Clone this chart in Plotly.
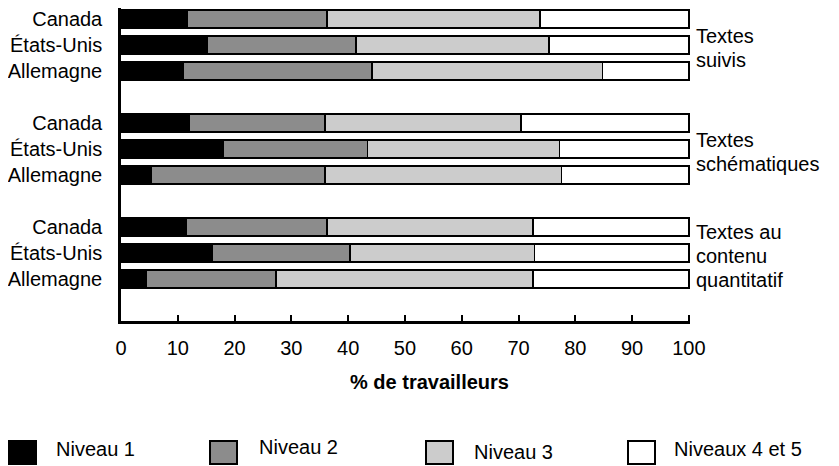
import plotly.graph_objects as go

countries = ["Canada", "États-Unis", "Allemagne"]
groups = [["Textes", "suivis"], ["Textes", "schématiques"], ["Textes au", "contenu", "quantitatif"]]
levels = ["Niveau 1", "Niveau 2", "Niveau 3", "Niveaux 4 et 5"]
x_title = "% de travailleurs"

# per group: Canada, États-Unis, Allemagne (percent of workers)
niveau1 = [11.7, 15.2, 10.9, 12.0, 18.0, 5.4, 11.5, 16.0, 4.4]
niveau2 = [24.6, 26.2, 33.3, 23.9, 25.4, 30.5, 24.8, 24.3, 22.9]
niveau3 = [37.5, 34.0, 40.6, 34.5, 33.8, 41.7, 36.2, 32.5, 45.2]
niveau45 = [26.2, 24.6, 15.2, 29.6, 22.8, 22.4, 27.5, 27.2, 27.5]

colors = ["#000000", "#8c8c8c", "#cccccc", "#ffffff"]
xticks = [0, 10, 20, 30, 40, 50, 60, 70, 80, 90, 100]

ypos = [g * 4 + c for g in range(3) for c in range(3)]
ylabels = countries * 3

fig = go.Figure()
for name, vals, col in zip(levels, [niveau1, niveau2, niveau3, niveau45], colors):
    fig.add_trace(go.Bar(
        y=ypos, x=vals, name=name, orientation="h", width=0.68,
        marker=dict(color=col, line=dict(color="#000000", width=1.6)),
        showlegend=False,
    ))

FS = 20
font = dict(family="Liberation Sans, Arial, sans-serif", size=FS, color="#000000")

# page is offset by the 8px body margin; plot area spans page x 121..690, y 8..321
fig.update_layout(
    barmode="stack",
    width=831, height=458,
    margin=dict(l=113, r=149, t=0, b=145),
    paper_bgcolor="white", plot_bgcolor="white",
    font=font,
    xaxis=dict(range=[0, 100.2], tickvals=xticks, ticks="inside", ticklen=6, tickwidth=2,
               tickcolor="black", showline=True, linecolor="black", linewidth=2.5,
               showgrid=False, zeroline=False, ticklabelstandoff=7),
    yaxis=dict(range=[11.615, -0.423], tickvals=ypos, ticktext=ylabels, ticks="",
               showline=True, linecolor="black", linewidth=2.5, showgrid=False,
               zeroline=False, ticklabelstandoff=12),
)

def px_x(p):
    return (p - 121) / 569

def px_y(p):
    return (321 - p) / 313

# axis title (placed right of centre as in the original)
fig.add_annotation(xref="paper", yref="paper", x=px_x(429), y=px_y(382), text="<b>" + x_title + "</b>",
                   showarrow=False, xanchor="center", yanchor="middle", font=font)

# group labels at the right
line_h = 24
for g, lines in enumerate(groups):
    n = len(lines)
    for i, t in enumerate(lines):
        fig.add_annotation(x=100, xref="x", y=g * 4 + 1, yref="y", text=t, showarrow=False,
                           xanchor="left", yanchor="middle", xshift=5,
                           yshift=((n - 1) / 2 - i) * line_h - 3, font=font)

# legend drawn as large squares with labels
leg_box_x = [9, 210, 426, 628]
leg_text_x = [55, 258, 473, 673]
leg_text_y = [449, 447, 452, 449]
for name, col, bx, tx, ty in zip(levels, colors, leg_box_x, leg_text_x, leg_text_y):
    fig.add_shape(type="rect", xref="paper", yref="paper",
                  x0=px_x(bx), x1=px_x(bx + 27), y0=px_y(464), y1=px_y(441),
                  fillcolor=col, line=dict(color="black", width=2))
    fig.add_annotation(xref="paper", yref="paper", x=px_x(tx - 1), y=px_y(ty),
                       text=name, showarrow=False, xanchor="left", yanchor="middle", font=font)

fig.write_html("out.html")
